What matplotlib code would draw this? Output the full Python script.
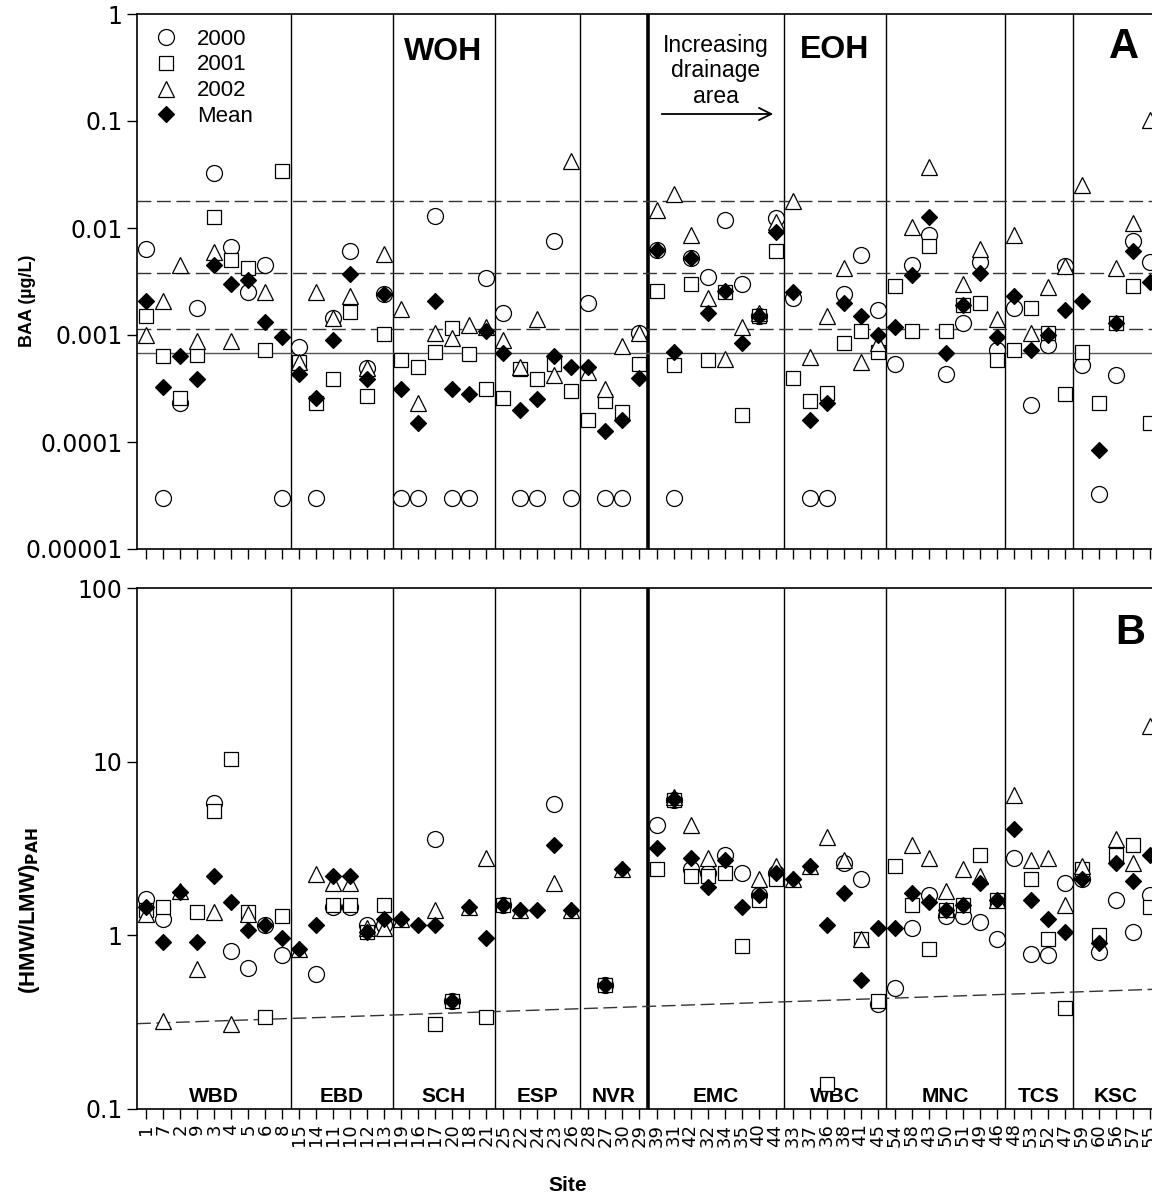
import numpy as np
import matplotlib.pyplot as plt
from matplotlib.transforms import blended_transform_factory

nan = np.nan

# site order along the x axis, grouped by watershed
sites = ['1', '7', '2', '9', '3', '4', '5', '6', '8',
         '15', '14', '11', '10', '12', '13',
         '19', '16', '17', '20', '18', '21',
         '25', '22', '24', '23', '26',
         '28', '27', '30', '29',
         '39', '31', '42', '32', '34', '35', '40', '44',
         '33', '37', '36', '38', '41', '45',
         '54', '58', '43', '50', '51', '49', '46',
         '48', '53', '52', '47',
         '59', '60', '56', '57', '55']
groups = ['WBD', 'EBD', 'SCH', 'ESP', 'NVR', 'EMC', 'WBC', 'MNC', 'TCS', 'KSC']
group_sizes = [9, 6, 6, 5, 4, 8, 6, 7, 4, 5]

# panel A: BAA (ug/L)
baa_2000 = [0.0063, 0.00003, 0.00023, 0.0018, 0.033, 0.0067, 0.0025, 0.0045, 0.00003,
            0.00078, 0.00003, 0.00143, 0.0061, 0.00049, 0.0024,
            0.00003, 0.00003, 0.013, 0.00003, 0.00003, 0.0034,
            0.0016, 0.00003, 0.00003, 0.0076, 0.00003,
            0.002, 0.00003, 0.00003, 0.00104,
            0.0062, 0.00003, 0.0052, 0.0035, 0.0119, 0.003, 0.0015, 0.0123,
            0.0022, 0.00003, 0.00003, 0.0024, 0.0056, 0.0017,
            0.00054, 0.0045, 0.0086, 0.00043, 0.0013, 0.0048, 0.00073,
            0.0018, 0.00022, 0.00081, 0.0044,
            0.00053, 0.000033, 0.00042, 0.0075, 0.0048]
baa_2001 = [0.0015, 0.00064, 0.00026, 0.00065, 0.0126, 0.005, 0.0042, 0.00072, 0.034,
            0.00056, 0.00023, 0.00039, 0.00165, 0.00027, 0.00102,
            0.00058, 0.0005, 0.0007, 0.00116, 0.00067, 0.00031,
            0.00026, 0.00048, 0.00039, 0.00054, 0.0003,
            0.00016, 0.00024, 0.00019, 0.00054,
            0.0026, 0.00052, 0.003, 0.00059, 0.0025, 0.00018, 0.0015, 0.0061,
            0.0004, 0.00024, 0.00029, 0.00084, 0.0011, 0.0007,
            0.0029, 0.0011, 0.0068, 0.0011, 0.0019, 0.002, 0.00059,
            0.00072, 0.0018, 0.00104, 0.00028,
            0.0007, 0.00023, 0.0013, 0.0029, 0.00015]
baa_2002 = [0.001, 0.0021, 0.0045, 0.00087, 0.006, 0.00087, nan, 0.0025, nan,
            0.00056, 0.0025, 0.00143, 0.0023, 0.00049, 0.0057,
            0.00174, 0.00023, 0.00104, 0.00093, 0.00124, 0.0012,
            0.00089, 0.0005, 0.0014, 0.00042, 0.0426,
            0.00045, 0.00031, 0.00079, 0.00104,
            0.0147, 0.021, 0.0086, 0.0022, 0.0006, 0.0012, 0.0016, 0.0115,
            0.0179, 0.00062, 0.0015, 0.0042, 0.00056, 0.00085,
            nan, 0.0102, 0.037, nan, 0.003, 0.0063, 0.0014,
            0.0086, 0.00104, 0.0028, 0.0044,
            0.025, nan, 0.0042, 0.0112, 0.102]
baa_mean = [0.0021, 0.00033, 0.00063, 0.00039, 0.0045, 0.003, 0.0033, 0.00133, 0.00096,
            0.00043, 0.00026, 0.0009, 0.0037, 0.00039, 0.0024,
            0.00031, 0.00015, 0.0021, 0.00031, 0.00028, 0.0011,
            0.00068, 0.0002, 0.00025, 0.00063, 0.0005,
            0.0005, 0.000128, 0.00016, 0.0004,
            0.0062, 0.0007, 0.0052, 0.0016, 0.0026, 0.00085, 0.0015, 0.0092,
            0.0025, 0.00016, 0.00023, 0.002, 0.0015, 0.001,
            0.0012, 0.0036, 0.0128, 0.00068, 0.0019, 0.0038, 0.00096,
            0.0023, 0.00073, 0.001, 0.0017,
            0.0021, 0.000084, 0.0013, 0.0061, 0.0031]
baa_refs = [0.018, 0.0038, 0.00115]
baa_solid = 0.00068

# panel B: (HMW/LMW) PAH ratio
ratio_2000 = [1.61, 1.24, nan, nan, 5.8, 0.81, 0.65, 1.14, 0.77,
              nan, 0.6, 1.45, 1.45, 1.15, 1.15,
              nan, nan, 3.6, 0.42, nan, nan,
              1.5, nan, nan, 5.7, nan,
              nan, 0.52, nan, nan,
              4.3, 6.0, 2.4, 2.3, 2.9, 2.3, 1.7, 2.3,
              nan, nan, nan, 2.6, 2.1, 0.4,
              0.5, 1.1, 1.7, 1.3, 1.3, 1.2, 0.95,
              2.8, 0.78, 0.77, 2.0,
              2.1, 0.8, 1.6, 1.05, 1.7]
ratio_2001 = [1.4, 1.45, nan, 1.37, 5.2, 10.4, 1.37, 0.34, 1.3,
              nan, nan, 1.5, 1.5, 1.05, 1.5,
              nan, nan, 0.31, 0.42, nan, 0.34,
              1.5, nan, nan, nan, nan,
              nan, 0.52, nan, nan,
              2.4, 6.0, 2.2, 2.2, 2.3, 0.87, 1.6, 2.1,
              nan, nan, 0.14, nan, 0.95, 0.42,
              2.5, 1.5, 0.83, 1.4, 1.5, 2.9, 1.6,
              nan, 2.1, 0.95, 0.38,
              2.4, 1.0, 2.9, 3.3, 1.45]
ratio_2002 = [1.32, 0.32, 1.8, 0.64, 1.37, 0.31, 1.32, nan, nan,
              0.83, 2.25, 2.0, 2.0, 1.1, 1.1,
              1.25, nan, 1.4, nan, 1.45, 2.8,
              nan, 1.4, nan, 2.0, 1.4,
              nan, nan, 2.4, nan,
              nan, 6.3, 4.3, 2.8, nan, nan, 2.1, 2.5,
              2.1, 2.5, 3.7, 2.7, 0.95, nan,
              nan, 3.3, 2.8, 1.8, 2.4, 2.2, 1.6,
              6.4, 2.7, 2.8, 1.5,
              2.5, nan, 3.6, 2.6, 16.0]
ratio_mean = [1.45, 0.91, 1.77, 0.91, 2.2, 1.55, 1.08, 1.15, 0.97,
              0.83, 1.15, 2.2, 2.2, 1.05, 1.25,
              1.25, 1.15, 1.15, 0.42, 1.45, 0.97,
              1.5, 1.4, 1.4, 3.3, 1.4,
              nan, 0.52, 2.4, nan,
              3.2, 6.1, 2.8, 1.9, 2.7, 1.45, 1.7, 2.3,
              2.1, 2.5, 1.15, 1.75, 0.55, 1.1,
              1.1, 1.75, 1.55, 1.4, 1.5, 2.0, 1.6,
              4.1, 1.6, 1.25, 1.05,
              2.1, 0.9, 2.6, 2.05, 2.9]
ratio_ref_ends = [0.31, 0.49]

x = np.arange(len(sites))
bounds = np.cumsum(group_sizes)[:-1] - 0.5
starts = np.concatenate([[0], np.cumsum(group_sizes)[:-1]])
centers = starts + (np.array(group_sizes) - 1) / 2.0
xlo, xhi = -0.55, 59.55

plt.rcParams['font.family'] = ['Liberation Sans', 'DejaVu Sans']

fig = plt.figure(figsize=(11.52, 12), dpi=100)
axA = fig.add_axes([137 / 1152, 1 - 549 / 1200, 1022 / 1152, 535 / 1200])
axB = fig.add_axes([137 / 1152, 1 - 1109 / 1200, 1022 / 1152, 521 / 1200])

styles = [
    dict(marker='o', ms=11.5, mfc='white', mec='black', mew=0.9, label='2000'),
    dict(marker='s', ms=10, mfc='white', mec='black', mew=0.9, label='2001'),
    dict(marker='^', ms=11.5, mfc='white', mec='black', mew=0.9, label='2002'),
    dict(marker='D', ms=7.8, mfc='black', mec='black', mew=0.9, label='Mean'),
]

for ax, series in [(axA, [baa_2000, baa_2001, baa_2002, baa_mean]),
                   (axB, [ratio_2000, ratio_2001, ratio_2002, ratio_mean])]:
    ax.set_yscale('log')
    ax.set_xlim(xlo, xhi)
    for b in bounds:
        lw = 2.6 if b == 29.5 else 1.0
        ax.axvline(b, color='black', lw=lw, zorder=1)
    for vals, st in zip(series, styles):
        ax.plot(x, vals, ls='none', zorder=3, **st)
    ax.set_xticks(x)
    ax.tick_params(axis='both', direction='out', length=7, width=1)
    ax.tick_params(axis='y', which='minor', length=0)
    for s in ax.spines.values():
        s.set_linewidth(1.2)

tick_font = dict(family='DejaVu Sans', size=17)

# panel A
axA.set_ylim(1e-5, 1)
axA.set_yticks([1e-5, 1e-4, 1e-3, 1e-2, 1e-1, 1])
axA.set_yticklabels(['0.00001', '0.0001', '0.001', '0.01', '0.1', '1'], fontdict=tick_font)
axA.set_xticklabels([])
for r in baa_refs:
    axA.axhline(r, color='#333333', lw=1.0, dashes=(10, 4), zorder=2)
axA.axhline(baa_solid, color='#555555', lw=1.0, zorder=2)
axA.set_ylabel('BAA (µg/L)', fontsize=13, fontweight='bold')
axA.yaxis.set_label_coords(-0.099, 0.4636)
axA.text(443 / 1152, 1 - 52 / 1200, 'WOH', transform=fig.transFigure, fontsize=23,
         fontweight='bold', ha='center', va='center')
axA.text(835 / 1152, 1 - 50 / 1200, 'EOH', transform=fig.transFigure, fontsize=23,
         fontweight='bold', ha='center', va='center')
axA.text(1124 / 1152, 1 - 47 / 1200, 'A', transform=fig.transFigure, fontsize=30,
         fontweight='bold', ha='center', va='center')
axA.text(716 / 1152, 1 - 71 / 1200, 'Increasing\ndrainage\narea', transform=fig.transFigure,
         fontsize=16.5, ha='center', va='center', linespacing=1.15)
axA.annotate('', xy=(776 / 1152, 1 - 114 / 1200), xytext=(659 / 1152, 1 - 114 / 1200),
             xycoords='figure fraction', textcoords='figure fraction',
             arrowprops=dict(arrowstyle='->', lw=1.3, color='black', mutation_scale=22))
axA.legend(loc='upper left', bbox_to_anchor=(-0.002, 1.006), frameon=False, fontsize=16,
           handletextpad=0.8, labelspacing=0.22, borderpad=0.3, handlelength=1.2)

# panel B
axB.set_ylim(0.1, 100)
axB.set_yticks([0.1, 1, 10, 100])
axB.set_yticklabels(['0.1', '1', '10', '100'], fontdict=tick_font)
axB.set_xticklabels(sites, rotation=90, fontdict=dict(family='DejaVu Sans', size=13))
axB.plot([xlo, xhi], ratio_ref_ends, color='#333333', lw=1.0, dashes=(10, 4), zorder=2)
axB.set_ylabel('(HMW/LMW)$_{\\mathbf{PAH}}$', fontsize=16, fontweight='bold')
axB.yaxis.set_label_coords(-0.093, 0.38)
axB.set_xlabel('Site', fontsize=15, fontweight='bold')
axB.xaxis.set_label_coords(0.4217, -0.128)
axB.text(1130 / 1152, 1 - 633 / 1200, 'B', transform=fig.transFigure, fontsize=30,
         fontweight='bold', ha='center', va='center')
trans = blended_transform_factory(axB.transData, axB.transAxes)
for g, c in zip(groups, centers):
    axB.text(c, 0.006, g, transform=trans, fontsize=15, fontweight='bold',
             ha='center', va='bottom', zorder=2)

fig.savefig('out.png', dpi=100)
